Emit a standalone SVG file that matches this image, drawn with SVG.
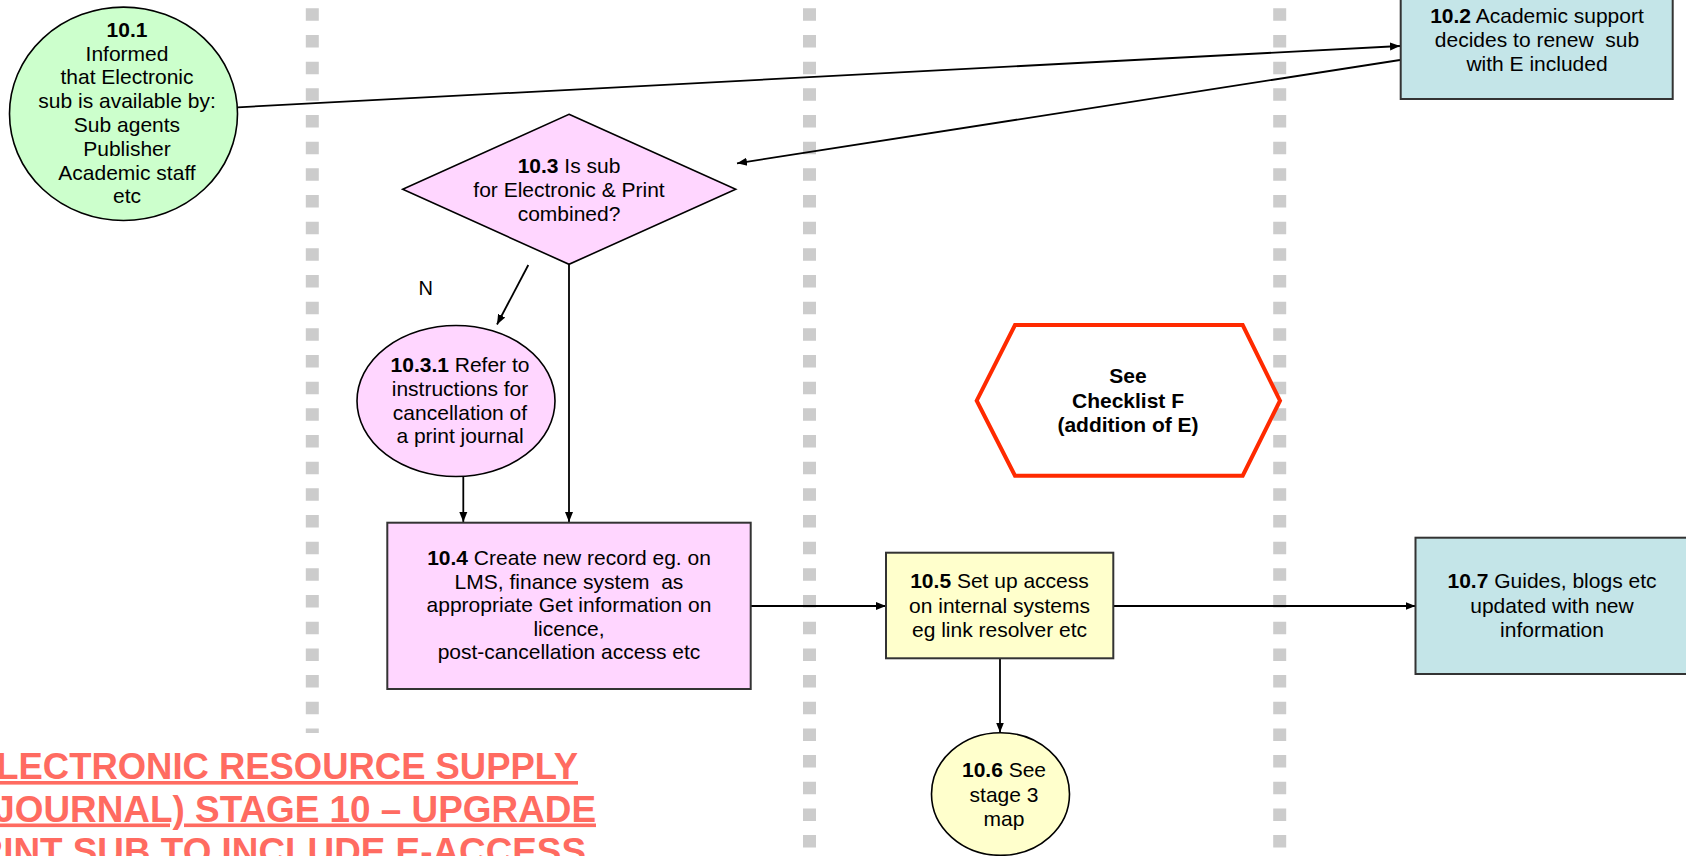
<svg xmlns="http://www.w3.org/2000/svg" width="1686" height="856" viewBox="0 0 1686 856">
<style>
text{font-family:"Liberation Sans",Arial,sans-serif;font-size:21px;fill:#000;text-anchor:middle}
.b{font-weight:bold}
.pre{white-space:pre}
.node{stroke:#000;stroke-width:1.6}
.box{stroke:#333;stroke-width:2}
.lane{stroke:#cccccc;stroke-width:13;stroke-dasharray:12.5 14.17;fill:none}
.con{stroke:#000;stroke-width:1.8;fill:none;marker-end:url(#ah)}
.title{font-size:36px;font-weight:bold;fill:#ff6b61;text-anchor:end;text-decoration:underline}
</style>
<defs>
<marker id="ah" viewBox="0 0 10 10" refX="10" refY="5" markerWidth="10" markerHeight="10" markerUnits="userSpaceOnUse" orient="auto">
<path d="M0,1 L10,5 L0,9 z" fill="#000"/>
</marker>
</defs>
<rect width="1686" height="856" fill="#fff"/>
<g id="lanes">
<line class="lane" x1="312.3" y1="8.3" x2="312.3" y2="733"/>
<line class="lane" x1="809.5" y1="8.3" x2="809.5" y2="856"/>
<line class="lane" x1="1279.7" y1="8.3" x2="1279.7" y2="856"/>
</g>
<g id="title">
<text class="title" x="578" y="779" textLength="606" lengthAdjust="spacingAndGlyphs">ELECTRONIC RESOURCE SUPPLY</text>
<text class="title" x="596" y="821.5" textLength="614" lengthAdjust="spacingAndGlyphs">(JOURNAL) STAGE 10 – UPGRADE</text>
<text class="title" x="586" y="864" textLength="634" lengthAdjust="spacingAndGlyphs">PRINT SUB TO INCLUDE E-ACCESS</text>
</g>
<g id="connectors">
<line class="con" x1="237.6" y1="107.3" x2="1400" y2="46"/>
<line class="con" x1="1400" y1="60" x2="737" y2="163.3"/>
<line class="con" x1="528.3" y1="265" x2="497" y2="324.5"/>
<line class="con" x1="569" y1="264.3" x2="569" y2="522"/>
<line class="con" x1="463.3" y1="476.5" x2="463.3" y2="522"/>
<line class="con" x1="750.7" y1="606" x2="886" y2="606"/>
<line class="con" x1="1113.3" y1="606" x2="1415.5" y2="606"/>
<line class="con" x1="1000" y1="658.3" x2="1000" y2="732.5"/>
<text x="425.7" y="295" style="font-size:20px">N</text>
</g>
<g id="n10_1">
<ellipse class="node" cx="123.5" cy="113.8" rx="114" ry="106.7" fill="#ccffcc"/>
<text x="127" y="36.7"><tspan class="b">10.1</tspan></text>
<text x="127" y="60.5">Informed</text>
<text x="127" y="84.3">that Electronic</text>
<text x="127" y="108.1">sub is available by:</text>
<text x="127" y="131.9">Sub agents</text>
<text x="127" y="155.7">Publisher</text>
<text x="127" y="179.5">Academic staff</text>
<text x="127" y="203.3">etc</text>
</g>
<g id="n10_2">
<rect class="box" x="1400.7" y="-10" width="272" height="109" fill="#c4e5e8"/>
<text x="1537" y="22.7"><tspan class="b">10.2</tspan> Academic support</text>
<text class="pre" x="1537" y="46.7">decides to renew  sub</text>
<text x="1537" y="70.7">with E included</text>
</g>
<g id="n10_3">
<polygon class="node" points="569,114.3 735.7,189.3 569,264.3 402.7,189.3" fill="#ffd6ff"/>
<text x="569" y="172.7"><tspan class="b">10.3</tspan> Is sub</text>
<text x="569" y="196.7">for Electronic &amp; Print</text>
<text x="569" y="220.7">combined?</text>
</g>
<g id="n10_3_1">
<ellipse class="node" cx="456" cy="401" rx="99" ry="75.5" fill="#ffd6ff"/>
<text x="460" y="371.7"><tspan class="b">10.3.1</tspan> Refer to</text>
<text x="460" y="395.6">instructions for</text>
<text x="460" y="419.5">cancellation of</text>
<text x="460" y="443.4">a print journal</text>
</g>
<g id="n10_4">
<rect class="box" x="387.3" y="522.7" width="363.4" height="166.3" fill="#ffd6ff"/>
<text x="569" y="565"><tspan class="b">10.4</tspan> Create new record eg. on</text>
<text class="pre" x="569" y="588.5">LMS, finance system  as</text>
<text x="569" y="612">appropriate Get information on</text>
<text x="569" y="635.5">licence,</text>
<text x="569" y="659">post-cancellation access etc</text>
</g>
<g id="n10_5">
<rect class="box" x="886" y="552.7" width="227.3" height="105.6" fill="#ffffcc"/>
<text x="999.5" y="588.3"><tspan class="b">10.5</tspan> Set up access</text>
<text x="999.5" y="612.5">on internal systems</text>
<text x="999.5" y="636.7">eg link resolver etc</text>
</g>
<g id="n10_6">
<ellipse class="node" cx="1000.5" cy="794" rx="69" ry="61.3" fill="#ffffcc"/>
<text x="1004" y="777.3"><tspan class="b">10.6</tspan> See</text>
<text x="1004" y="801.5">stage 3</text>
<text x="1004" y="825.7">map</text>
</g>
<g id="n10_7">
<rect class="box" x="1415.5" y="537.7" width="272.5" height="136.3" fill="#c4e5e8"/>
<text x="1552" y="588.3"><tspan class="b">10.7</tspan> Guides, blogs etc</text>
<text x="1552" y="612.5">updated with new</text>
<text x="1552" y="636.7">information</text>
</g>
<g id="checklist_f">
<polygon points="1015,325 1242.7,325 1280,400.7 1242.7,475.7 1015,475.7 976.7,400.7" fill="#fff" stroke="#ff2a00" stroke-width="4"/>
<text class="b" x="1128" y="383.3">See</text>
<text class="b" x="1128" y="407.5">Checklist F</text>
<text class="b" x="1128" y="431.7">(addition of E)</text>
</g>
</svg>
